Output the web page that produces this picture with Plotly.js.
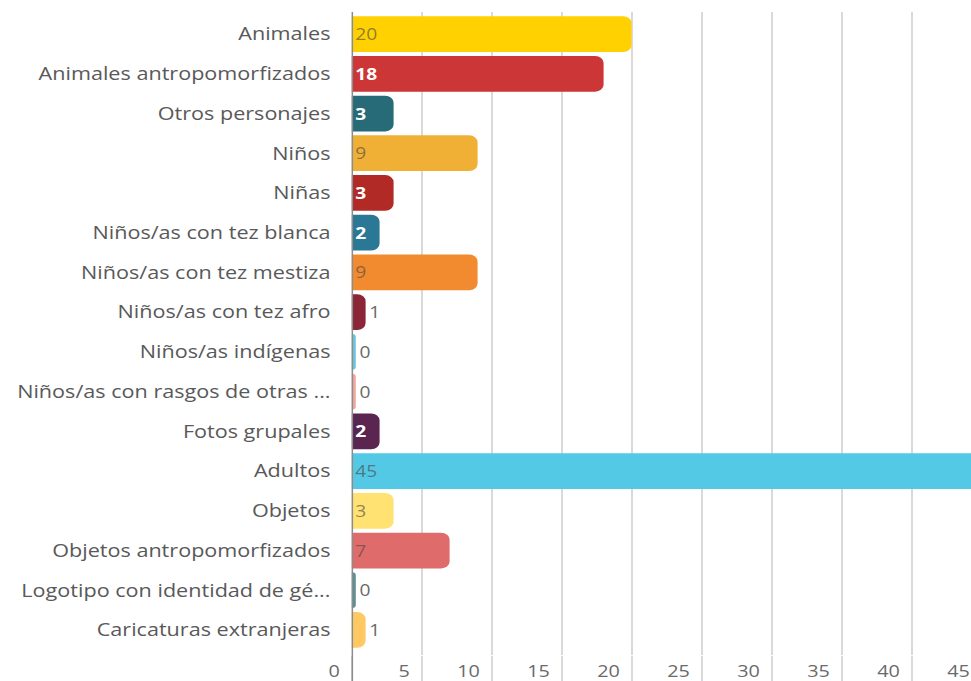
<!DOCTYPE html>
<html>
<head>
<meta charset="utf-8">
<script src="https://cdn.plot.ly/plotly-3.0.1.min.js"></script>
<style>
html, body { margin: 0; padding: 0; background: #ffffff; overflow: hidden; }
#chart { width: 820px; height: 681px; transform: scaleX(1.2); transform-origin: 0 0; }
</style>
</head>
<body>
<div id="chart"></div>
<script>
// ---- data ----
const categories = [
  "Animales",
  "Animales antropomorfizados",
  "Otros personajes",
  "Niños",
  "Niñas",
  "Niños/as con tez blanca",
  "Niños/as con tez mestiza",
  "Niños/as con tez afro",
  "Niños/as indígenas",
  "Niños/as con rasgos de otras ...",
  "Fotos grupales",
  "Adultos",
  "Objetos",
  "Objetos antropomorfizados",
  "Logotipo con identidad de gé...",
  "Caricaturas extranjeras"
];
const values = [20, 18, 3, 9, 3, 2, 9, 1, 0, 0, 2, 45, 3, 7, 0, 1];
const barColors = [
  "#FFD100", "#CC3636", "#286B78", "#F0B035", "#B12A26", "#2B7896",
  "#F28B30", "#8A2638", "#6CC5DE", "#F4A59C", "#5B2552", "#53C9E6",
  "#FFE272", "#E06B6B", "#5E9095", "#FFC863"
];
const whiteLabel = [false, true, true, false, true, true, false, true, false, false, true, false, false, false, false, false];
const xTickVals = [0, 5, 10, 15, 20, 25, 30, 35, 40, 45];

// ---- styling derived from data ----
const MIN_VISIBLE = 0.3; // zero-valued bars still show a thin sliver
const displayVals = values.map(v => Math.max(v, MIN_VISIBLE));
const textPos = values.map(v => v >= 2 ? "inside" : "outside");
const textCols = values.map((v, i) => v >= 2 ? (whiteLabel[i] ? "#ffffff" : "rgba(70,70,70,0.62)") : "#6a6a6a");
const textWeights = values.map((v, i) => (v >= 2 && whiteLabel[i]) ? 700 : 400);

const FONT = "Open Sans, sans-serif";

const trace = {
  type: "bar",
  orientation: "h",
  y: categories,
  x: displayVals,
  text: values.map(String),
  textposition: textPos,
  insidetextanchor: "start",
  constraintext: "none",
  textangle: 0,
  textfont: { family: FONT, size: 16, color: textCols, weight: textWeights },
  marker: { color: barColors, line: { width: 0 } },
  hoverinfo: "skip",
  cliponaxis: false
};

const layout = {
  width: 820,
  height: 681,
  margin: { l: 293, r: 2, t: 12, b: 26 },
  paper_bgcolor: "#ffffff",
  plot_bgcolor: "#ffffff",
  showlegend: false,
  bargap: 0.1,
  barcornerradius: 7,
  font: { family: FONT, color: "#5a5a5a" },
  xaxis: {
    range: [0, 45],
    tickvals: xTickVals,
    ticktext: xTickVals.map(String),
    showgrid: true,
    gridcolor: "#d9d9d9",
    gridwidth: 1.7,
    zeroline: false,
    showline: false,
    ticks: "outside",
    ticklen: 26,
    tickwidth: 1.7,
    tickcolor: "#d9d9d9",
    ticklabelposition: "outside left",
    ticklabelstandoff: 1,
    ticklabelshift: -9,
    tickfont: { family: FONT, size: 16.5, color: "#6a6a6a" },
    fixedrange: true
  },
  yaxis: {
    type: "category",
    categoryorder: "array",
    categoryarray: categories,
    range: [15.63, -0.555],
    showgrid: false,
    zeroline: false,
    showline: false,
    ticks: "outside",
    ticklen: 13,
    tickcolor: "rgba(0,0,0,0)",
    tickfont: { family: FONT, size: 18, color: "#595959" },
    fixedrange: true
  },
  shapes: [{
    type: "line",
    xref: "x", yref: "paper",
    x0: 0, x1: 0, y0: -0.045, y1: 1,
    line: { color: "#8c8c8c", width: 2.5 },
    layer: "above"
  }]
};

Plotly.newPlot("chart", [trace], layout, { displayModeBar: false, staticPlot: true });
</script>
</body>
</html>
